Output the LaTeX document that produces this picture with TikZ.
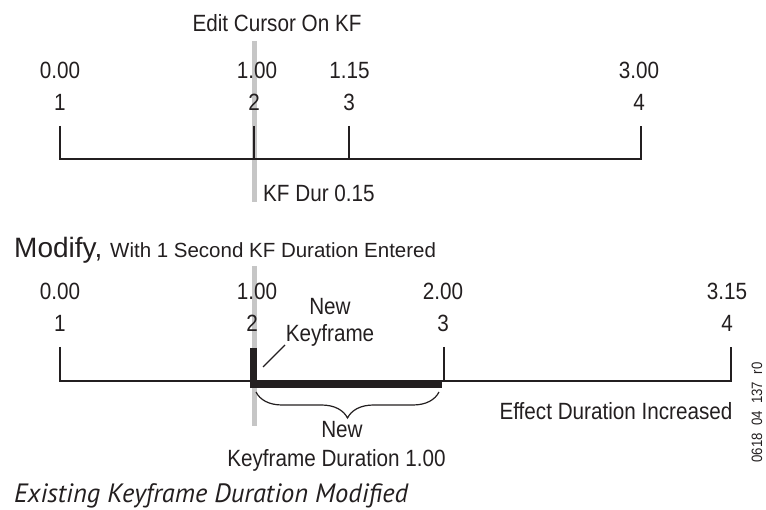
\documentclass[tikz,border=0pt]{standalone}
\usepackage{fontspec}
\setsansfont{Liberation Sans}[FakeStretch=0.88]
\newfontfamily\widesans{Liberation Sans}
\newfontfamily\capfont{PT Sans}
\usetikzlibrary{decorations.pathreplacing}
\definecolor{inkblack}{RGB}{35,31,32}
\definecolor{cursorgray}{RGB}{198,198,198}

\begin{document}
\begin{tikzpicture}[
    x=1pt, y=-1pt,
    lbl/.style={font=\fontsize{23.5}{26}\selectfont\sffamily, text=inkblack, inner sep=0pt, anchor=base},
    titlelbl/.style={font=\fontsize{28}{32}\selectfont\widesans, text=inkblack, inner sep=0pt, anchor=base west},
    caplbl/.style={font=\fontsize{26.5}{29}\selectfont\capfont\itshape, text=inkblack, inner sep=0pt, anchor=base west},
    axis/.style={draw=inkblack, line width=1.3pt},
    thickaxis/.style={draw=inkblack, line width=7pt},
    cursor/.style={draw=cursorgray, line width=5pt},
]
    \useasboundingbox (0,0) rectangle (766,510);

    % top timeline
    \draw[cursor] (254.5,41) -- (254.5,202);
    \node[lbl] (edit) at (277,31.7) {Edit Cursor On KF};

    \node[lbl] (ta) at (60,79) {0.00};
    \node[lbl] (tb) at (257,79) {1.00};
    \node[lbl] (tc) at (349.5,79) {1.15};
    \node[lbl] (td) at (639,79) {3.00};
    \node[lbl] (ka) at (60,111) {1};
    \node[lbl] (kb) at (254,111) {2};
    \node[lbl] (kc) at (349,111) {3};
    \node[lbl] (kd) at (639,111) {4};

    \coordinate (a1) at (60,126);  \coordinate (b1) at (60,159);
    \coordinate (a2) at (254,126); \coordinate (b2) at (254,159);
    \coordinate (a3) at (349,126); \coordinate (b3) at (349,159);
    \coordinate (a4) at (641,126); \coordinate (b4) at (641,159);
    \draw[axis] (a1) -- (b1) -- (b4) -- (a4);
    \draw[axis] (a2) -- (b2);
    \draw[axis] (a3) -- (b3);

    \node[lbl, anchor=base west] (kfdur) at (263,201.7) {KF Dur 0.15};

    % bottom timeline
    \node[titlelbl] (modify) at (14,257.3) {Modify, {\fontsize{20.5}{23}\selectfont With 1 Second KF Duration Entered}};

    \draw[cursor] (254.5,266) -- (254.5,426);

    \node[lbl] (ma) at (60,300) {0.00};
    \node[lbl] (mb) at (257,300) {1.00};
    \node[lbl] (mc) at (443,300) {2.00};
    \node[lbl] (md) at (727,300) {3.15};
    \node[lbl] (na) at (60,331.7) {1};
    \node[lbl] (nb) at (252,331.7) {2};
    \node[lbl] (nc) at (443,331.7) {3};
    \node[lbl] (nd) at (727,331.7) {4};

    \coordinate (p1) at (60,347);  \coordinate (q1) at (60,381);
    \coordinate (p2) at (253,348); \coordinate (q2) at (253,381);
    \coordinate (p3) at (444,347); \coordinate (q3) at (444,381);
    \coordinate (p4) at (731,347); \coordinate (q4) at (731,381);
    \draw[axis] (p1) -- (q1) -- (q4) -- (p4);
    \draw[axis] (p3) -- (q3);
    \draw[thickaxis] (p2) -- ([yshift=-3.5pt]q2) -- ([yshift=-3.5pt]442,381);

    \node[lbl] (newkf) at (330,315) {New};
    \node[lbl] (newkf2) at (330,341.7) {Keyframe};
    \coordinate (lead) at (263,367);
    \draw[inkblack, line width=1.2pt] (lead) -- (285,345);

    \draw[inkblack, line width=1.2pt, decorate, decoration={brace, mirror, amplitude=26pt}]
        (256,392) -- (439,392);
    \node[lbl] (newdur) at (342,438) {New};
    \node[lbl] (newdur2) at (336.5,466.7) {Keyframe Duration 1.00};

    \node[lbl] (effect) at (616,420) {Effect Duration Increased};

    \node[font=\fontsize{15}{17}\selectfont\sffamily, text=inkblack, inner sep=0pt, rotate=90] (fig) at (757,412.5) {0618~~04~~137~~r0};

    \node[caplbl] (caption) at (14,502) {Existing Keyframe Duration Modified};
\end{tikzpicture}
\end{document}
